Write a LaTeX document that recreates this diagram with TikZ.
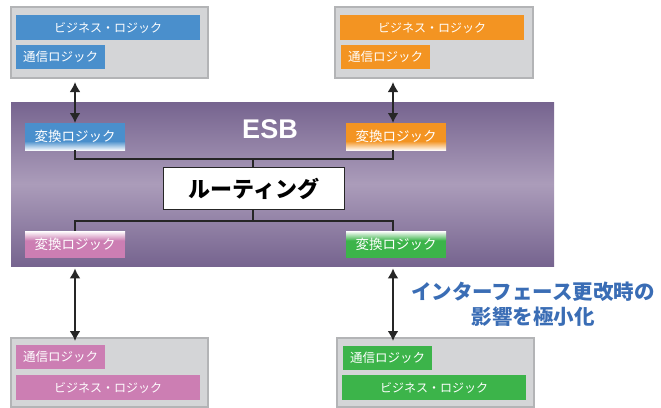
\documentclass[tikz,border=0pt]{standalone}
\usepackage{fontspec}
\newfontfamily\jp{Noto Sans CJK JP}
\newfontfamily\esbfont{Liberation Sans}
\usetikzlibrary{arrows.meta}
\definecolor{cblue}{HTML}{4A8FCC}
\definecolor{corange}{HTML}{F39422}
\definecolor{cpink}{HTML}{CC7EB3}
\definecolor{cgreen}{HTML}{3CB44A}
\definecolor{pdark}{HTML}{76648F}
\definecolor{plight}{HTML}{AB9CBA}
\definecolor{outerfill}{HTML}{D4D5D7}
\definecolor{outerdraw}{HTML}{B3B4B6}
\definecolor{capblue}{HTML}{3A6DB5}
\tikzset{
  outerbox/.style={fill=outerfill, draw=outerdraw, line width=2pt},
  bizbar/.style={anchor=north west, minimum width=184pt, minimum height=25pt, inner sep=0pt, text=white, font=\jp\fontsize{12}{13}\selectfont},
  commbar/.style={anchor=north west, minimum width=89pt, minimum height=24pt, inner sep=0pt, text=white, font=\jp\fontsize{12.5}{13}\selectfont},
  convbox/.style={anchor=north west, minimum width=100pt, minimum height=27pt, inner sep=0pt, text=white, font=\jp\fontsize{13.5}{14}\selectfont},
  link/.style={line width=1.8pt, black!85},
  dbl/.style={line width=2.4pt, black!85, {Latex[length=10pt,width=11pt]}-{Latex[length=10pt,width=11pt]}}
}
\begin{document}
\begin{tikzpicture}[x=1pt,y=-1pt]
\useasboundingbox (0,0) rectangle (661,407);
% ESB band
\shade[top color=pdark, bottom color=pdark, middle color=plight] (11,102) rectangle (554,266);
\node[font=\esbfont\bfseries\fontsize{27}{28}\selectfont, text=white] (esb) at (270,129) {ESB};
% outer boxes
\node[outerbox, anchor=north west, minimum width=197pt, minimum height=71pt, inner sep=0pt] (tlo) at (10,6) {};
\node[outerbox, anchor=north west, minimum width=198pt, minimum height=71pt, inner sep=0pt] (tro) at (334,6) {};
\node[outerbox, anchor=north west, minimum width=197pt, minimum height=69pt, inner sep=0pt] (blo) at (10,337) {};
\node[outerbox, anchor=north west, minimum width=197pt, minimum height=69pt, inner sep=0pt] (bro) at (336,337) {};
% top-left
\node[bizbar, fill=cblue] (tlb) at (16,15) {ビジネス・ロジック};
\node[commbar, fill=cblue] (tlc) at (16,45) {通信ロジック};
% top-right
\node[bizbar, fill=corange] (trb) at (340,15) {ビジネス・ロジック};
\node[commbar, fill=corange] (trc) at (341,45) {通信ロジック};
% bottom-left
\node[commbar, fill=cpink] (blc) at (16,345) {通信ロジック};
\node[bizbar, fill=cpink] (blb) at (16,375) {ビジネス・ロジック};
% bottom-right
\node[commbar, fill=cgreen] (brc) at (343,346) {通信ロジック};
\node[bizbar, fill=cgreen] (brb) at (342,375) {ビジネス・ロジック};
% conversion boxes with gradients
\fill[cblue] (25,123) rectangle (125,141);
\shade[top color=cblue, bottom color=white] (25,141) rectangle (125,150.5);
\fill[corange] (346,123) rectangle (446,141);
\shade[top color=corange, bottom color=white] (346,141) rectangle (446,150.5);
\fill[cpink] (25,240) rectangle (125,258);
\shade[top color=white, bottom color=cpink] (25,231) rectangle (125,240.5);
\fill[cgreen] (346,240) rectangle (446,258);
\shade[top color=white, bottom color=cgreen] (346,231) rectangle (446,240.5);
\node[convbox] (ctl) at (25,123) {変換ロジック};
\node[convbox] (ctr) at (346,123) {変換ロジック};
\node[convbox] (cbl) at (25,231) {変換ロジック};
\node[convbox] (cbr) at (346,231) {変換ロジック};
% routing
\node[anchor=north west, fill=white, draw=black!85, line width=1.4pt, minimum width=181pt, minimum height=42pt, inner sep=0pt, font=\jp\bfseries\fontsize{22}{24}\selectfont] (rt) at (163,167) {ルーティング};
% connectors
\coordinate (ct) at (253,159);
\coordinate (cb) at (253,221);
\draw[link] (ctl.south -| 75,0) |- (ct) -| (ctr.south -| 393,0);
\draw[link] (rt.north -| ct) -- (ct);
\draw[link] (cbl.north -| 75,0) |- (cb) -| (cbr.north -| 393,0);
\draw[link] (rt.south -| cb) -- (cb);
% arrows
\draw[dbl] (tlo.south -| 75,0) ++(0,3) -- (ctl.north -| 75,0);
\draw[dbl] (tro.south -| 393,0) ++(0,3) -- (ctr.north -| 393,0);
\draw[dbl] (cbl.south -| 75,0) ++(0,10) -- (blo.north -| 75,0) -- ++(0,4);
\draw[dbl] (cbr.south -| 393,0) ++(0,10) -- (bro.north -| 393,0) -- ++(0,4);
% caption
\node[align=center, text=capblue, font=\jp\bfseries\fontsize{20.5}{25}\selectfont] (cap) at (533,304) {インターフェース更改時の\\影響を極小化};
\end{tikzpicture}
\end{document}
